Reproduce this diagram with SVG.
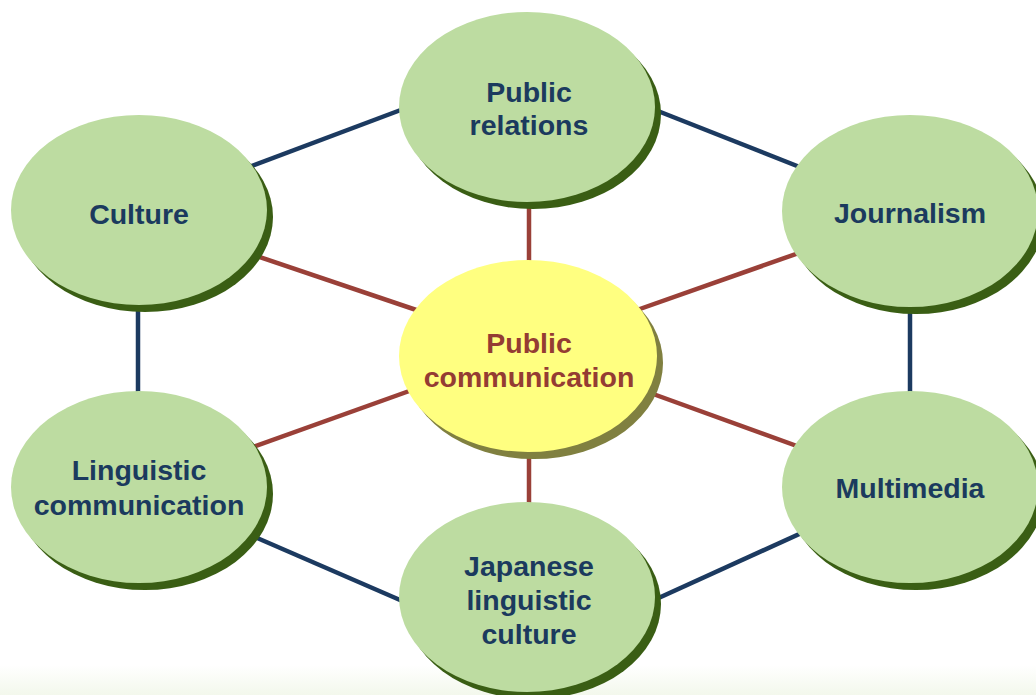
<svg xmlns="http://www.w3.org/2000/svg" width="1036" height="695" viewBox="0 0 1036 695">
<defs>
<linearGradient id="bg" x1="0" y1="0" x2="0" y2="1">
<stop offset="0" stop-color="#ffffff"/>
<stop offset="1" stop-color="#f3f8ec"/>
</linearGradient>
<style>
.blue{stroke:#1c3a60;stroke-width:4.5;fill:none}
.red{stroke:#9a4038;stroke-width:4.5;fill:none}
.gs{fill:#3a5e14}
.gf{fill:#bddca1}
.ys{fill:#808040}
.yf{fill:#ffff80}
.t{font-family:"Liberation Sans",Arial,sans-serif;font-weight:bold;font-size:28.5px;text-anchor:middle;fill:#1b3a5e}
.tc{fill:#943c33}
</style>
</defs>
<rect x="0" y="0" width="1036" height="695" fill="#ffffff"/>
<rect x="0" y="665" width="1036" height="30" fill="url(#bg)"/>
<g id="connectors">
<line class="blue" x1="220" y1="178" x2="430" y2="99"/>
<line class="blue" x1="630" y1="100" x2="830" y2="179"/>
<line class="blue" x1="910" y1="290" x2="910" y2="410"/>
<line class="blue" x1="138" y1="290" x2="138" y2="410"/>
<line class="blue" x1="225" y1="524" x2="430" y2="613"/>
<line class="blue" x1="630" y1="611" x2="830" y2="520"/>
<line class="red" x1="529" y1="190" x2="529" y2="280"/>
<line class="red" x1="529" y1="430" x2="529" y2="520"/>
<line class="red" x1="230" y1="247" x2="440" y2="318"/>
<line class="red" x1="620" y1="316" x2="830" y2="242"/>
<line class="red" x1="225" y1="457" x2="440" y2="380"/>
<line class="red" x1="620" y1="382" x2="830" y2="458"/>
</g>
<g id="node-public-relations">
<ellipse class="gs" cx="533" cy="114" rx="128" ry="95"/>
<ellipse class="gf" cx="527" cy="107" rx="128" ry="95"/>
<text class="t" x="529" y="102">Public</text>
<text class="t" x="529" y="135">relations</text>
</g>
<g id="node-culture">
<ellipse class="gs" cx="145" cy="217" rx="128" ry="95"/>
<ellipse class="gf" cx="139" cy="210" rx="128" ry="95"/>
<text class="t" x="139" y="224">Culture</text>
</g>
<g id="node-journalism">
<ellipse class="gs" cx="916" cy="218" rx="128" ry="96"/>
<ellipse class="gf" cx="910" cy="211" rx="128" ry="96"/>
<text class="t" x="910" y="223">Journalism</text>
</g>
<g id="node-linguistic-communication">
<ellipse class="gs" cx="145" cy="494" rx="128" ry="96"/>
<ellipse class="gf" cx="139" cy="487" rx="128" ry="96"/>
<text class="t" x="139" y="480">Linguistic</text>
<text class="t" x="139" y="515">communication</text>
</g>
<g id="node-multimedia">
<ellipse class="gs" cx="916" cy="494" rx="128" ry="96"/>
<ellipse class="gf" cx="910" cy="487" rx="128" ry="96"/>
<text class="t" x="910" y="498">Multimedia</text>
</g>
<g id="node-japanese-linguistic-culture">
<ellipse class="gs" cx="533" cy="604" rx="128" ry="95"/>
<ellipse class="gf" cx="527" cy="597" rx="128" ry="95"/>
<text class="t" x="529" y="576">Japanese</text>
<text class="t" x="529" y="610">linguistic</text>
<text class="t" x="529" y="644">culture</text>
</g>
<g id="node-public-communication">
<ellipse class="ys" cx="534" cy="363" rx="129" ry="96"/>
<ellipse class="yf" cx="528" cy="356" rx="129" ry="96"/>
<text class="t tc" x="529" y="353">Public</text>
<text class="t tc" x="529" y="387">communication</text>
</g>
</svg>
